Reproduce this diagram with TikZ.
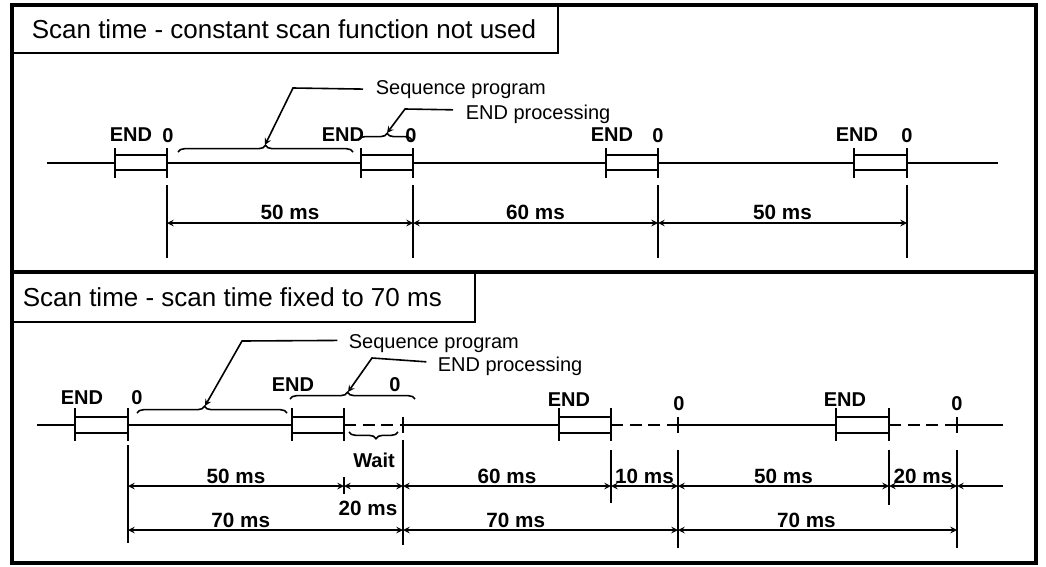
\documentclass[tikz,border=0pt]{standalone}
\usepackage{fontspec}
\setmainfont{Liberation Sans}
\usetikzlibrary{
    arrows,
    decorations.pathreplacing
}
\tikzset{
  every path/.style={
    black,
    line width=1.2pt
  },
  panel/.style={line width=2.6pt},
  titlebox/.style={line width=1.8pt},
  titletext/.style={anchor=west, inner sep=0pt, font=\fontsize{19.5}{22}\selectfont},
  tag/.style={inner sep=0pt, font=\bfseries\fontsize{15}{17}\selectfont},
  dimlabel/.style={above, inner sep=1.5pt, font=\bfseries\fontsize{15.5}{17}\selectfont},
  note/.style={anchor=base west, inner sep=0pt, font=\fontsize{15}{17}\selectfont},
  brc/.style={decorate, decoration={brace, amplitude=5pt, aspect=#1}},
  brc/.default=0.5,
  waitline/.style={dash pattern=on 9pt off 5pt}
}

\begin{document}
\begin{tikzpicture}[x=0.75pt,y=-0.75pt,>=stealth]
    \useasboundingbox (0,0) rectangle (1046,567);

    % 枠と見出し
    \draw[panel] (12,5) rectangle (1036,272);
    \draw[panel] (12,272) rectangle (1036,563);
    \draw[titlebox] (12,5) rectangle (558,53);
    \draw[titlebox] (12,272) rectangle (475,322);
    \node[titletext] (titleA) at (31,29) {Scan time - constant scan function not used};
    \node[titletext] (titleB) at (22,297) {Scan time - scan time fixed to 70 ms};

    % 上段: タイムライン
    \draw (47,163) -- (115,163) (167,163) -- (361,163) (413,163) -- (606,163)
          (658,163) -- (854,163) (907,163) -- (998,163);
    \foreach \a/\b in {115/167,361/413,606/658,854/907}{
        \draw (\a,148) -- (\a,178) (\b,148) -- (\b,178);
        \draw (\a,155) -- (\b,155) (\a,170) -- (\b,170);
    }
    \foreach \x [count=\i] in {131,343,612,857}
        \node[tag] (endA\i) at (\x,135) {END};
    \foreach \x [count=\i] in {168,411,658,907}
        \node[tag] (zeroA\i) at (\x,136) {0};

    % 上段: 中括弧と引出線
    \draw[brc] (178,152) -- (353,152);
    \coordinate (seqTipA) at (265,145);
    \coordinate (seqKneeA) at (293,88);
    \node[note] (seqA) at (375,94) {Sequence program};
    \draw[->] ([xshift=-9pt]seqA.west) -- (seqKneeA) -- (seqTipA);
    \draw[brc=0.54] (358,140) -- (412,140);
    \coordinate (procTipA) at (387,133);
    \coordinate (procKneeA) at (405,109);
    \node[note] (procA) at (465,119) {END processing};
    \draw[->] ([xshift=-9pt,yshift=3pt]procA.west) -- (procKneeA) -- (procTipA);

    % 上段: 寸法
    \foreach \x [count=\i] in {167,413,658,907}{
        \draw (\x,185) -- (\x,258);
        \coordinate (dA\i) at (\x,223);
    }
    \draw[<->] (dA1) -- (dA2) node[dimlabel,midway] (msA1) {50 ms};
    \draw[<->] (dA2) -- (dA3) node[dimlabel,midway] (msA2) {60 ms};
    \draw[<->] (dA3) -- (dA4) node[dimlabel,midway] (msA3) {50 ms};

    % 下段: タイムライン
    \draw (37,425) -- (75,425) (128,425) -- (292,425) (403,425) -- (559,425)
          (678,425) -- (836,425) (957,425) -- (1003,425);
    \draw[waitline] (344,425) -- (403,425) (611,425) -- (678,425) (889,425) -- (957,425);
    \foreach \a/\b in {75/128,292/344,559/611,836/889}{
        \draw (\a,408) -- (\a,441) (\b,408) -- (\b,441);
        \draw (\a,417) -- (\b,417) (\a,433) -- (\b,433);
    }
    \foreach \x in {403,678,957}
        \draw (\x,417) -- (\x,433);
    \foreach \x/\y [count=\i] in {82/398,293/385,569/400,845/400}
        \node[tag] (endB\i) at (\x,\y) {END};
    \foreach \x/\y [count=\i] in {137/398,395/385,679/404,957/404}
        \node[tag] (zeroB\i) at (\x,\y) {0};

    % 下段: 中括弧と引出線
    \draw[brc=0.45] (137,413) -- (287,413);
    \coordinate (seqTipB) at (205,406);
    \coordinate (seqKneeB) at (242,341);
    \node[note] (seqB) at (348,348) {Sequence program};
    \draw[->] ([xshift=-8pt,yshift=2pt]seqB.west) -- (seqKneeB) -- (seqTipB);
    \draw[brc=0.46] (290,399) -- (415,399);
    \coordinate (procTipB) at (348,392);
    \coordinate (procKneeB) at (372,358);
    \node[note] (procB) at (437,371) {END processing};
    \draw[->] ([xshift=-8pt,yshift=3pt]procB.west) -- (procKneeB) -- (procTipB);
    \draw[brc=0.55,decoration={mirror}] (349,432) -- (398,432);
    \node[tag] (waitB) at (374,460) {Wait};

    % 下段: 寸法
    \foreach \x/\t/\b in {128/445/543,403/440/545,611/450/503,678/450/548,889/450/505,957/450/548}
        \draw (\x,\t) -- (\x,\b);
    \draw (344,477) -- (344,494);
    \foreach \x [count=\i] in {128,344,403,611,678,889,957}
        \coordinate (dB\i) at (\x,486);
    \coordinate (dBend) at (1003,486);
    \foreach \x [count=\i] in {128,403,678,957}
        \coordinate (dC\i) at (\x,530);
    \draw[<->] (dB1) -- (dB2) node[dimlabel,midway] (msB1) {50 ms};
    \draw[<->] (dB2) -- (dB3);
    \node[dimlabel,anchor=center] (msB2) at (368,508) {20 ms};
    \draw[<->] (dB3) -- (dB4) node[dimlabel,midway] (msB3) {60 ms};
    \draw[<->] (dB4) -- (dB5) node[dimlabel,midway] (msB4) {10 ms};
    \draw[<->] (dB5) -- (dB6) node[dimlabel,midway] (msB5) {50 ms};
    \draw[<->] (dB6) -- (dB7) node[dimlabel,midway] (msB6) {20 ms};
    \draw[<-] (dB7) -- (dBend);
    \draw[<->] (dC1) -- (dC2) node[dimlabel,pos=0.41] (msC1) {70 ms};
    \draw[<->] (dC2) -- (dC3) node[dimlabel,pos=0.41] (msC2) {70 ms};
    \draw[<->] (dC3) -- (dC4) node[dimlabel,pos=0.46] (msC3) {70 ms};
\end{tikzpicture}
\end{document}
